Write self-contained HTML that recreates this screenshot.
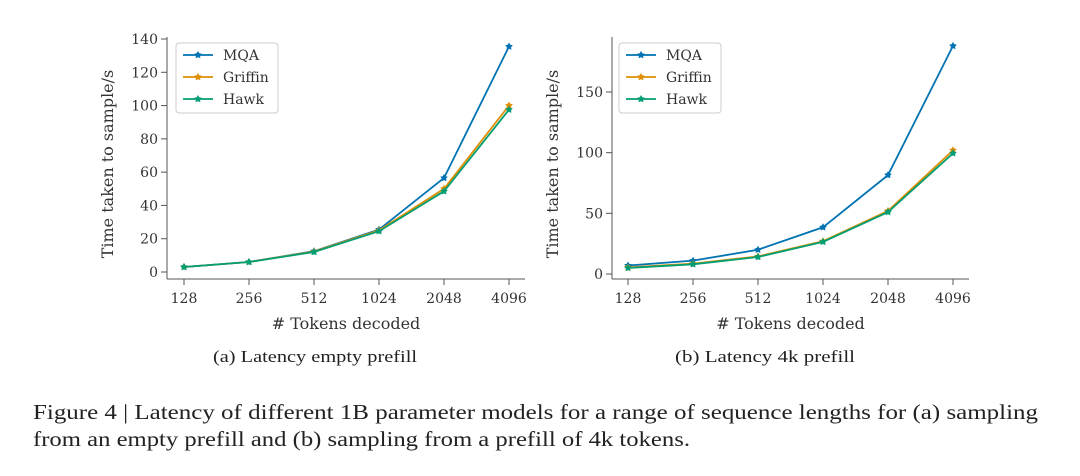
<!DOCTYPE html>
<html><head><meta charset="utf-8"><style>
html,body{margin:0;padding:0;background:#fff;}
svg{display:block;font-family:"Liberation Serif",serif;}
.dv{font-family:"DejaVu Serif","Liberation Serif",serif;}
</style></head><body>
<svg id="fig" width="1080" height="476" viewBox="0 0 1080 476">
<g id="chartA" class="dv"></g>
<g id="chartB" class="dv"></g>
<text x="315" y="362" font-size="17" text-anchor="middle" fill="#222" textLength="204" lengthAdjust="spacingAndGlyphs">(a)  Latency empty prefill</text>
<text x="765" y="362" font-size="17" text-anchor="middle" fill="#222" textLength="180" lengthAdjust="spacingAndGlyphs">(b)  Latency 4k prefill</text>
<text x="33" y="419" font-size="21" fill="#222" textLength="1005" lengthAdjust="spacingAndGlyphs">Figure 4 | Latency of different 1B parameter models for a range of sequence lengths for (a) sampling</text>
<text x="33" y="446" font-size="21" fill="#222" textLength="657" lengthAdjust="spacingAndGlyphs">from an empty prefill and (b) sampling from a prefill of 4k tokens.</text>
</svg>
<script>
const categories = ["128","256","512","1024","2048","4096"];
const seriesNames = ["MQA","Griffin","Hawk"];
const aMQA = [3,6,12.5,25.5,56.5,135.5];
const aGriffin = [3,6,12.3,25,50,100];
const aHawk = [3,6,12,24.5,48.5,97.5];
const bMQA = [7,11,20,38.5,81.5,188];
const bGriffin = [5.5,8.5,14.5,27,52,102];
const bHawk = [5,8,14,26.5,51,99.5];
const aTicks = [0,20,40,60,80,100,120,140];
const bTicks = [0,50,100,150];
const colors = ["#0173b2","#de8f05","#029e73"];
const NS="http://www.w3.org/2000/svg";
function mk(parent,tag,attrs){const e=document.createElementNS(NS,tag);for(const k in attrs)e.setAttribute(k,attrs[k]);parent.appendChild(e);return e;}
function star(cx,cy,r){let p=[];for(let i=0;i<10;i++){const a=-Math.PI/2+i*Math.PI/5;const rr=i%2?r*0.55:r;p.push((cx+rr*Math.cos(a)).toFixed(1)+","+(cy+rr*Math.sin(a)).toFixed(1));}return p.join(" ");}
function draw(g,cfg){
  const {sx,x0,x1,y0px,yTop,ypx,ticks,series,spineBottom,leg}=cfg;
  const xs=i=>x0+i*(x1-x0)/(categories.length-1);
  const ys=v=>y0px-v*ypx;
  let e;
  e=mk(g,"line",{x1:sx,y1:yTop,x2:sx,y2:spineBottom,stroke:"#555","stroke-width":1});
  
  
  e=mk(g,"line",{x1:sx,y1:spineBottom,x2:x1+16,y2:spineBottom,stroke:"#555","stroke-width":1});
  
  
  ticks.forEach(t=>{
    mk(g,"line",{x1:sx-6,y1:ys(t),x2:sx,y2:ys(t),stroke:"#555"});
    e=mk(g,"text",{x:sx-9,y:ys(t)+5,"font-size":14,"text-anchor":"end",fill:"#333"});e.textContent=t;
    
    
  });
  categories.forEach((c,i)=>{
    mk(g,"line",{x1:xs(i),y1:spineBottom,x2:xs(i),y2:spineBottom+6,stroke:"#555"});
    e=mk(g,"text",{x:xs(i),y:spineBottom+24,"font-size":14,"text-anchor":"middle",fill:"#333"});e.textContent=c;
    
    
  });
  e=mk(g,"text",{x:(sx+x1+16)/2,y:spineBottom+50,"font-size":16,"text-anchor":"middle",fill:"#333"});e.textContent="# Tokens decoded";
  
  
  const yc=(yTop+spineBottom)/2+6;
  e=mk(g,"text",{x:sx-54,y:yc,"font-size":16,"text-anchor":"middle",fill:"#333",transform:`rotate(-90 ${sx-54} ${yc})`});e.textContent="Time taken to sample/s";
  
  
  series.forEach((s,k)=>{
    const pts=s.map((v,i)=>xs(i)+","+ys(v)).join(" ");
    e=mk(g,"polyline",{points:pts,fill:"none",stroke:colors[k],"stroke-width":1.8});
    
    
    s.forEach((v,i)=>{e=mk(g,"polygon",{points:star(xs(i),ys(v),4),fill:colors[k]});
      
      });
  });
  e=mk(g,"rect",{x:leg[0],y:leg[1],width:102,height:70,rx:3,fill:"#fff","fill-opacity":0.85,stroke:"#ccc"});
  
  
  seriesNames.forEach((n,k)=>{
    const ly=leg[1]+12+k*22;
    mk(g,"line",{x1:leg[0]+7,y1:ly,x2:leg[0]+37,y2:ly,stroke:colors[k],"stroke-width":1.8});
    mk(g,"polygon",{points:star(leg[0]+22,ly,4),fill:colors[k]});
    e=mk(g,"text",{x:leg[0]+47,y:ly+5,"font-size":14,fill:"#333"});e.textContent=n;
    
    
  });
}
draw(document.getElementById("chartA"),{sx:167,x0:184,x1:509,y0px:272,yTop:37,ypx:233/140,ticks:aTicks,series:[aMQA,aGriffin,aHawk],spineBottom:279,leg:[176,43]});
draw(document.getElementById("chartB"),{sx:612,x0:628,x1:953,y0px:274,yTop:37,ypx:182/150,ticks:bTicks,series:[bMQA,bGriffin,bHawk],spineBottom:279,leg:[619,43]});
</script>
</body></html>
